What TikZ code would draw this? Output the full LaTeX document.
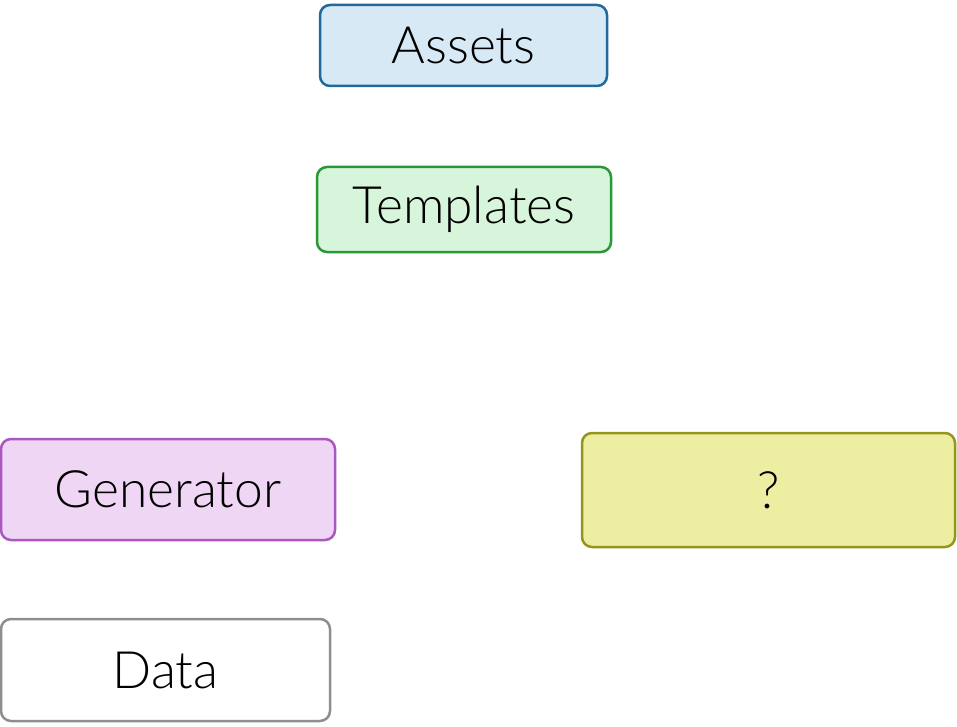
\documentclass[tikz,border=0pt]{standalone}
\usepackage{fontspec}
\setmainfont{Lato Light}
\definecolor{assetfill}{HTML}{D6E9F5}
\definecolor{assetdraw}{HTML}{21699A}
\definecolor{templfill}{HTML}{D6F5DB}
\definecolor{templdraw}{HTML}{2A9838}
\definecolor{genfill}{HTML}{EFD6F5}
\definecolor{gendraw}{HTML}{AA58C0}
\definecolor{qfill}{HTML}{EEEEA3}
\definecolor{qdraw}{HTML}{94961B}
\definecolor{datadraw}{HTML}{8E8E8E}
\tikzset{
    box/.style={draw, rounded corners=10pt, line width=2.5pt, inner sep=0pt,
        font=\fontsize{51.5}{61}\selectfont},
}
\begin{document}
\begin{tikzpicture}[x=1pt, y=-1pt]
        \useasboundingbox (0,0) rectangle (957,727);
        \node[box, fill=assetfill, draw=assetdraw, minimum width=287pt, minimum height=81pt] (assets) at (463.5,45.5) {Assets};
        \node[box, fill=templfill, draw=templdraw, minimum width=294pt, minimum height=85pt] (templates) at (464,209.5) {Templates};
        \node[box, fill=genfill, draw=gendraw, minimum width=334pt, minimum height=101pt] (generator) at (168,489.5) {Generator};
        \node[box, fill=qfill, draw=qdraw, minimum width=373pt, minimum height=114pt] (unknown) at (768.5,490) {?};
        \node[box, fill=white, draw=datadraw, minimum width=329pt, minimum height=102pt] (data) at (165.5,670) {Data};
    \end{tikzpicture}
\end{document}
